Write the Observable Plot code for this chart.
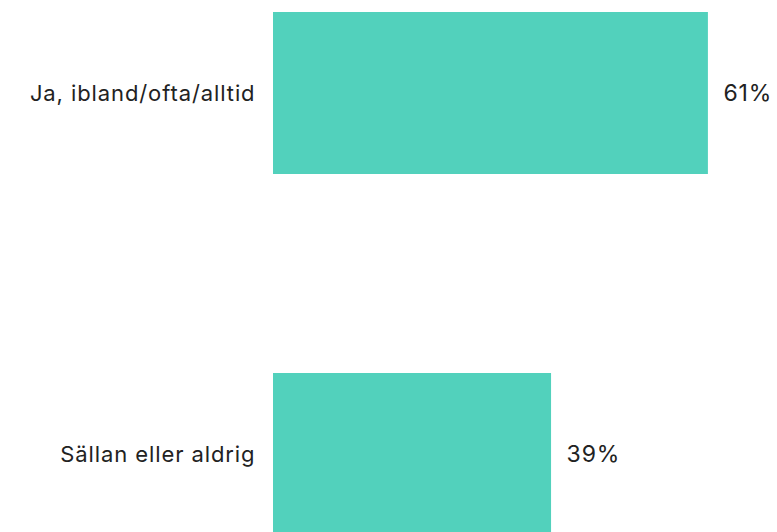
<!DOCTYPE html>
<html>
<head>
<meta charset="utf-8">
<script src="https://cdn.jsdelivr.net/npm/d3@7"></script>
<script src="https://cdn.jsdelivr.net/npm/@observablehq/plot@0.6"></script>
<style>
  html, body { margin: 0; padding: 0; background: #fff; overflow: hidden; }
  #chart svg { display: block; }
  #chart svg text { letter-spacing: 0.9px; }
</style>
</head>
<body>
<div id="chart"></div>
<script>
const categories = ["Ja, ibland/ofta/alltid", "Sällan eller aldrig"];
const values = [61, 39];
const valueLabels = ["61%", "39%"];

const data = categories.map((c, i) => ({category: c, value: values[i], label: valueLabels[i]}));

const chart = Plot.plot({
  width: 777,
  height: 546,
  marginLeft: 273,
  marginRight: 4,
  marginTop: 0,
  marginBottom: 0,
  style: {fontFamily: "Inter, 'Noto Sans', sans-serif", fontSize: "22px", color: "#222"},
  x: {domain: [0, 70.13], axis: null},
  y: {domain: categories, paddingInner: 0.5525, paddingOuter: 0.0304, label: null},
  marks: [
    Plot.barX(data, {x: "value", y: "category", fill: "#52d1bc"}),
    Plot.text(data, {x: "value", y: "category", text: "label", textAnchor: "start", dx: 15, fontSize: 23, fill: "#222"}),
    Plot.axisY({tickSize: 0, tickPadding: 18, fontSize: 22, label: null, fill: "#222"})
  ]
});
document.getElementById("chart").appendChild(chart);
</script>
</body>
</html>
